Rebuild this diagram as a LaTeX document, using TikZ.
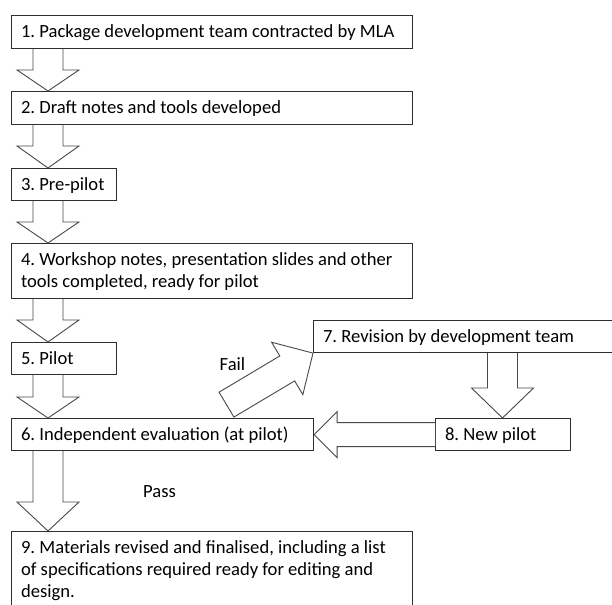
\documentclass[tikz,border=0pt]{standalone}
\usepackage{fontspec}
\setmainfont{Carlito}
\usetikzlibrary{calc}
\definecolor{linegray}{HTML}{2E2E2E}
\definecolor{arrgray}{HTML}{484848}
\definecolor{txt}{HTML}{000000}
\newcommand\bxfont{\fontsize{18.6}{22}\selectfont\frenchspacing}
\tikzset{
  box/.style={draw=linegray, line width=1.1pt, anchor=north west, align=flush left,
    inner xsep=9.5pt, inner ysep=0pt, font=\bxfont, text=txt, text height=22pt},
  blockarrow/.style={draw=arrgray, line width=0.9pt, fill=white, line join=miter},
  lbl/.style={font=\bxfont, text=txt, inner sep=0pt, anchor=base west}
}
\newcommand\blkdown[4]{%
  \draw[blockarrow] let \p1=(#1.south west), \p2=(#2.north west) in
    (\x2+#3pt-15pt,\y1) -- (\x2+#3pt-15pt,\y2+#4pt) -- (\x2+#3pt-31pt,\y2+#4pt)
    -- (\x2+#3pt,\y2) -- (\x2+#3pt+31pt,\y2+#4pt) -- (\x2+#3pt+15pt,\y2+#4pt)
    -- (\x2+#3pt+15pt,\y1);}
\begin{document}
\begin{tikzpicture}[x=1pt,y=1pt]
\useasboundingbox (0,0) rectangle (612,-604);
\clip (0,0) rectangle (612,-604);
\fill[white] (0,0) rectangle (612,-604);

\node[box, text width=382pt, text depth=11pt] (b1) at (11,-15) {1. Package development team contracted by MLA};
\node[box, text width=382pt, text depth=11pt] (b2) at (11,-91) {2. Draft notes and tools developed};
\node[box, text width=86pt, text depth=10pt] (b3) at (11,-168) {3. Pre-pilot};
\node[box, text width=382pt, text depth=33pt] (b4) at (11,-243) {4. Workshop notes, presentation slides and other\\tools completed, ready for pilot};
\node[box, text width=86pt, text depth=10pt] (b5) at (11,-342) {5. Pilot};
\node[box, text width=283pt, text depth=10pt] (b6) at (11,-418) {6. Independent evaluation (at pilot)};
\node[box, text width=283pt, text depth=10pt] (b7) at (313,-320) {7. Revision by development team};
\node[box, text width=116pt, text depth=10pt] (b8) at (435,-418) {8. New pilot};
\node[box, text width=382pt, text depth=70pt] (b9) at (11,-531) {9. Materials revised and finalised, including a list\\of specifications required ready for editing and\\design.};

\blkdown{b1}{b2}{37}{21}
\blkdown{b2}{b3}{37}{22}
\blkdown{b3}{b4}{37}{21}
\blkdown{b4}{b5}{37}{22}
\blkdown{b5}{b6}{37}{21}
\blkdown{b6}{b9}{37}{29}
\blkdown{b7}{b8}{67.5}{30}

\draw[blockarrow] let \p1=(b8.west), \p2=(b6.east) in
  (\x1,\y2+12pt) -- (\x2+23pt,\y2+12pt) -- (\x2+23pt,\y2+23pt) -- (\x2,\y2)
  -- (\x2+23pt,\y2-23pt) -- (\x2+23pt,\y2-12pt) -- (\x1,\y2-12pt);

\begin{scope}[shift={(b7.south west)}, rotate=30.77]
  \draw[blockarrow] (-100.7,14.5) -- (-30,14.5) -- (-30,30.5) -- (0,0)
    -- (-30,-30.5) -- (-30,-14.5) -- (-100.7,-14.5) -- cycle;
\end{scope}

\node[lbl] (fail) at (219.5,-370) {Fail};
\node[lbl] (pass) at (143,-497) {Pass};
\end{tikzpicture}
\end{document}
